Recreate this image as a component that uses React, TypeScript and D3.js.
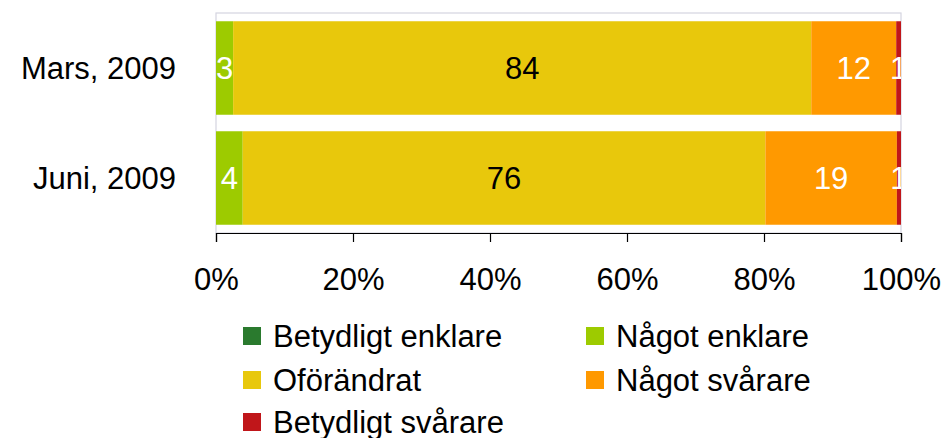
import React, { useEffect, useRef } from "react";
import * as d3 from "d3";

// stacked 100% bars, two survey rounds

const categories = ["Mars, 2009", "Juni, 2009"];
const seriesNames = ["Betydligt enklare", "Något enklare", "Oförändrat", "Något svårare", "Betydligt svårare"];
const seriesColors = ["#2a7a2e", "#9dcb00", "#e8c80c", "#ff9900", "#c0161a"];
const labelColors = ["#ffffff", "#ffffff", "#000000", "#ffffff", "#ffffff"];
const marsValues = [0, 2.5, 84.4, 12.4, 0.7];
const juniValues = [0, 3.9, 76.3, 19.2, 0.6];
const tickValues = [0, 20, 40, 60, 80, 100];

const FONT = "'Liberation Sans', Arial, sans-serif";
const FS = 31;

export default function App() {
    const svgRef = useRef<SVGSVGElement | null>(null);

    useEffect(() => {
        const svg = d3.select(svgRef.current);
        svg.selectAll("*").remove();

        const left = 216, right = 901, top = 13, bottom = 233;
        const x = d3.scaleLinear().domain([0, 100]).range([left, right]);
        const y = d3.scaleBand().domain(categories).range([top, bottom]).paddingInner(0.15).paddingOuter(0.075);

        const rows = [marsValues, juniValues];

        svg.append("defs").append("clipPath").attr("id", "plot-clip")
            .append("rect").attr("x", left).attr("y", top).attr("width", right - left).attr("height", bottom - top);

        // plot frame
        svg.append("rect")
            .attr("x", left).attr("y", top).attr("width", right - left).attr("height", bottom - top)
            .attr("fill", "none").attr("stroke", "#d4d4e0").attr("stroke-width", 1.2);

        const plot = svg.append("g").attr("clip-path", "url(#plot-clip)");

        rows.forEach((vals, ri) => {
            const cat = categories[ri];
            let acc = 0;
            vals.forEach((v, si) => {
                const x0 = x(acc), x1 = x(acc + v);
                acc += v;
                if (v <= 0) return;
                plot.append("rect")
                    .attr("x", x0).attr("y", y(cat)!)
                    .attr("width", x1 - x0).attr("height", y.bandwidth())
                    .attr("fill", seriesColors[si]);
                plot.append("text")
                    .attr("x", (x0 + x1) / 2).attr("y", y(cat)! + y.bandwidth() / 2)
                    .attr("text-anchor", "middle").attr("dominant-baseline", "central")
                    .attr("font-family", FONT).attr("font-size", FS)
                    .attr("fill", labelColors[si])
                    .text(Math.round(v));
            });
        });

        // category labels
        svg.append("g").selectAll("text").data(categories).join("text")
            .attr("x", 176).attr("y", (d) => y(d)! + y.bandwidth() / 2)
            .attr("text-anchor", "end").attr("dominant-baseline", "central")
            .attr("font-family", FONT).attr("font-size", FS).attr("fill", "#000")
            .text((d) => d);

        // x axis
        const xAxis = d3.axisBottom(x).tickValues(tickValues).tickSize(9).tickPadding(26)
            .tickFormat((d) => `${d}%`);
        const ax = svg.append("g").attr("transform", `translate(0,${bottom})`).call(xAxis);
        ax.select(".domain").attr("stroke", "#000").attr("stroke-width", 1.2);
        ax.selectAll(".tick line").attr("stroke", "#000").attr("stroke-width", 1.2);
        ax.selectAll(".tick text").attr("font-family", FONT).attr("font-size", FS).attr("fill", "#000");

        // legend
        const legendPos = [
            [243, 336], [586, 336],
            [243, 380], [586, 380],
            [243, 422],
        ];
        const lg = svg.append("g");
        seriesNames.forEach((name, i) => {
            const [lx, ly] = legendPos[i];
            lg.append("rect").attr("x", lx).attr("y", ly - 9).attr("width", 18).attr("height", 18)
                .attr("fill", seriesColors[i]);
            lg.append("text").attr("x", lx + 30).attr("y", ly)
                .attr("dominant-baseline", "central")
                .attr("font-family", FONT).attr("font-size", FS).attr("fill", "#000")
                .text(name);
        });
    }, []);

    return (
        <svg ref={svgRef} width={945} height={438}
            style={{ position: "absolute", left: 0, top: 0, background: "#fff" }} />
    );
}
